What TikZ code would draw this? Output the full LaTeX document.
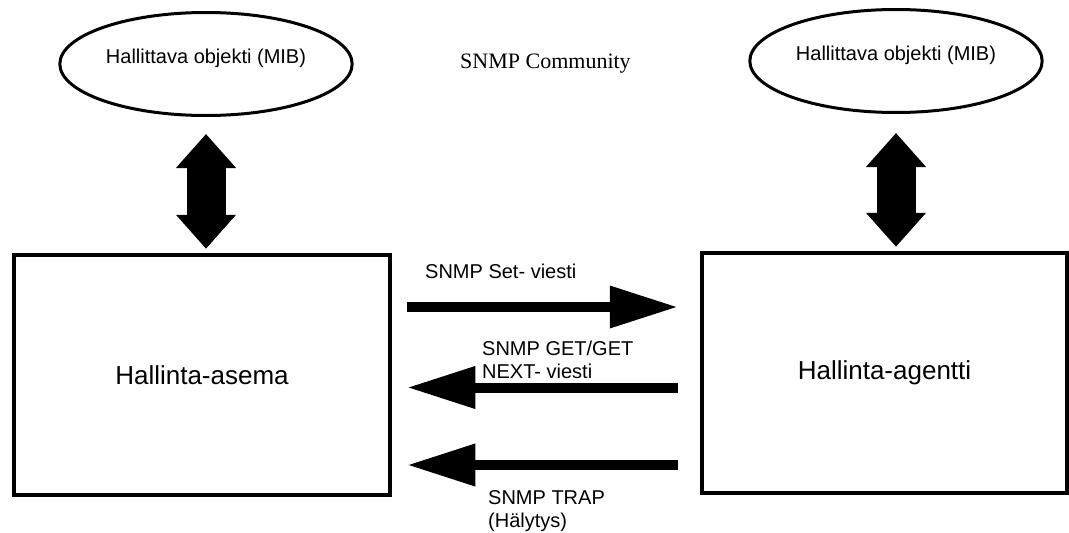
\documentclass[tikz,border=0pt]{standalone}
\usepackage{fontspec}
\setmainfont{Liberation Sans}
\newfontfamily\commfont{Liberation Serif}
\usetikzlibrary{shapes.geometric, arrows.meta}
\tikzset{
    mib/.style={draw, ellipse, line width=3pt, minimum width=290pt, minimum height=103pt, text height=16pt, text depth=18pt, font=\fontsize{20}{23}\selectfont},
    station/.style={draw, rectangle, line width=4.5pt, minimum height=240pt, font=\fontsize{26}{30}\selectfont},
    msg/.style={align=left, inner sep=0pt, font=\fontsize{20}{23}\selectfont},
    bigarrow/.style={line width=39pt, {Triangle[length=34pt, width=58pt]}-{Triangle[length=34pt, width=58pt]}},
    arrow/.style={line width=10pt, -{Triangle[length=68pt, width=40pt]}}
}

\begin{document}
\begin{tikzpicture}[x=1pt, y=-1pt]
\useasboundingbox (0,0) rectangle (1069,533);
\node[mib] (mib1) at (206,64) {Hallittava objekti (MIB)};
\node[mib, minimum width=288pt] (mib2) at (896,61) {Hallittava objekti (MIB)};
\node[font=\commfont\fontsize{22}{26}\selectfont, anchor=base west, inner sep=0pt] (comm) at (460,68) {SNMP Community};
\node[station, minimum width=376pt] (asema) at (202,375) {Hallinta-asema};
\node[station, minimum width=365pt] (agentti) at (884.5,373) {Hallinta-agentti};
% tietokanta <-> asema/agentti
\draw[bigarrow, shorten <=17pt, shorten >=4pt] (mib1) -- (mib1 |- asema.north);
\draw[bigarrow, shorten <=19pt, shorten >=4pt] (mib2) -- (mib2 |- agentti.north);
% viestit
\node[msg, anchor=base west] (setmsg) at (425,278) {SNMP Set- viesti};
\node[msg, anchor=north west] (getmsg) at (482,341) {SNMP GET/GET\\NEXT- viesti};
\node[msg, anchor=north west] (trapmsg) at (488,490) {SNMP TRAP\\(Hälytys)};
\draw[arrow, shorten <=15pt, shorten >=22pt] ([yshift=68pt]asema.east) -- ([yshift=66pt]agentti.west);
\draw[arrow, shorten <=22pt, shorten >=15pt] ([yshift=-14.5pt]agentti.west) -- ([yshift=-12.5pt]asema.east);
\draw[arrow, shorten <=22pt, shorten >=15pt] ([yshift=-92pt]agentti.west) -- ([yshift=-90pt]asema.east);
\end{tikzpicture}
\end{document}
